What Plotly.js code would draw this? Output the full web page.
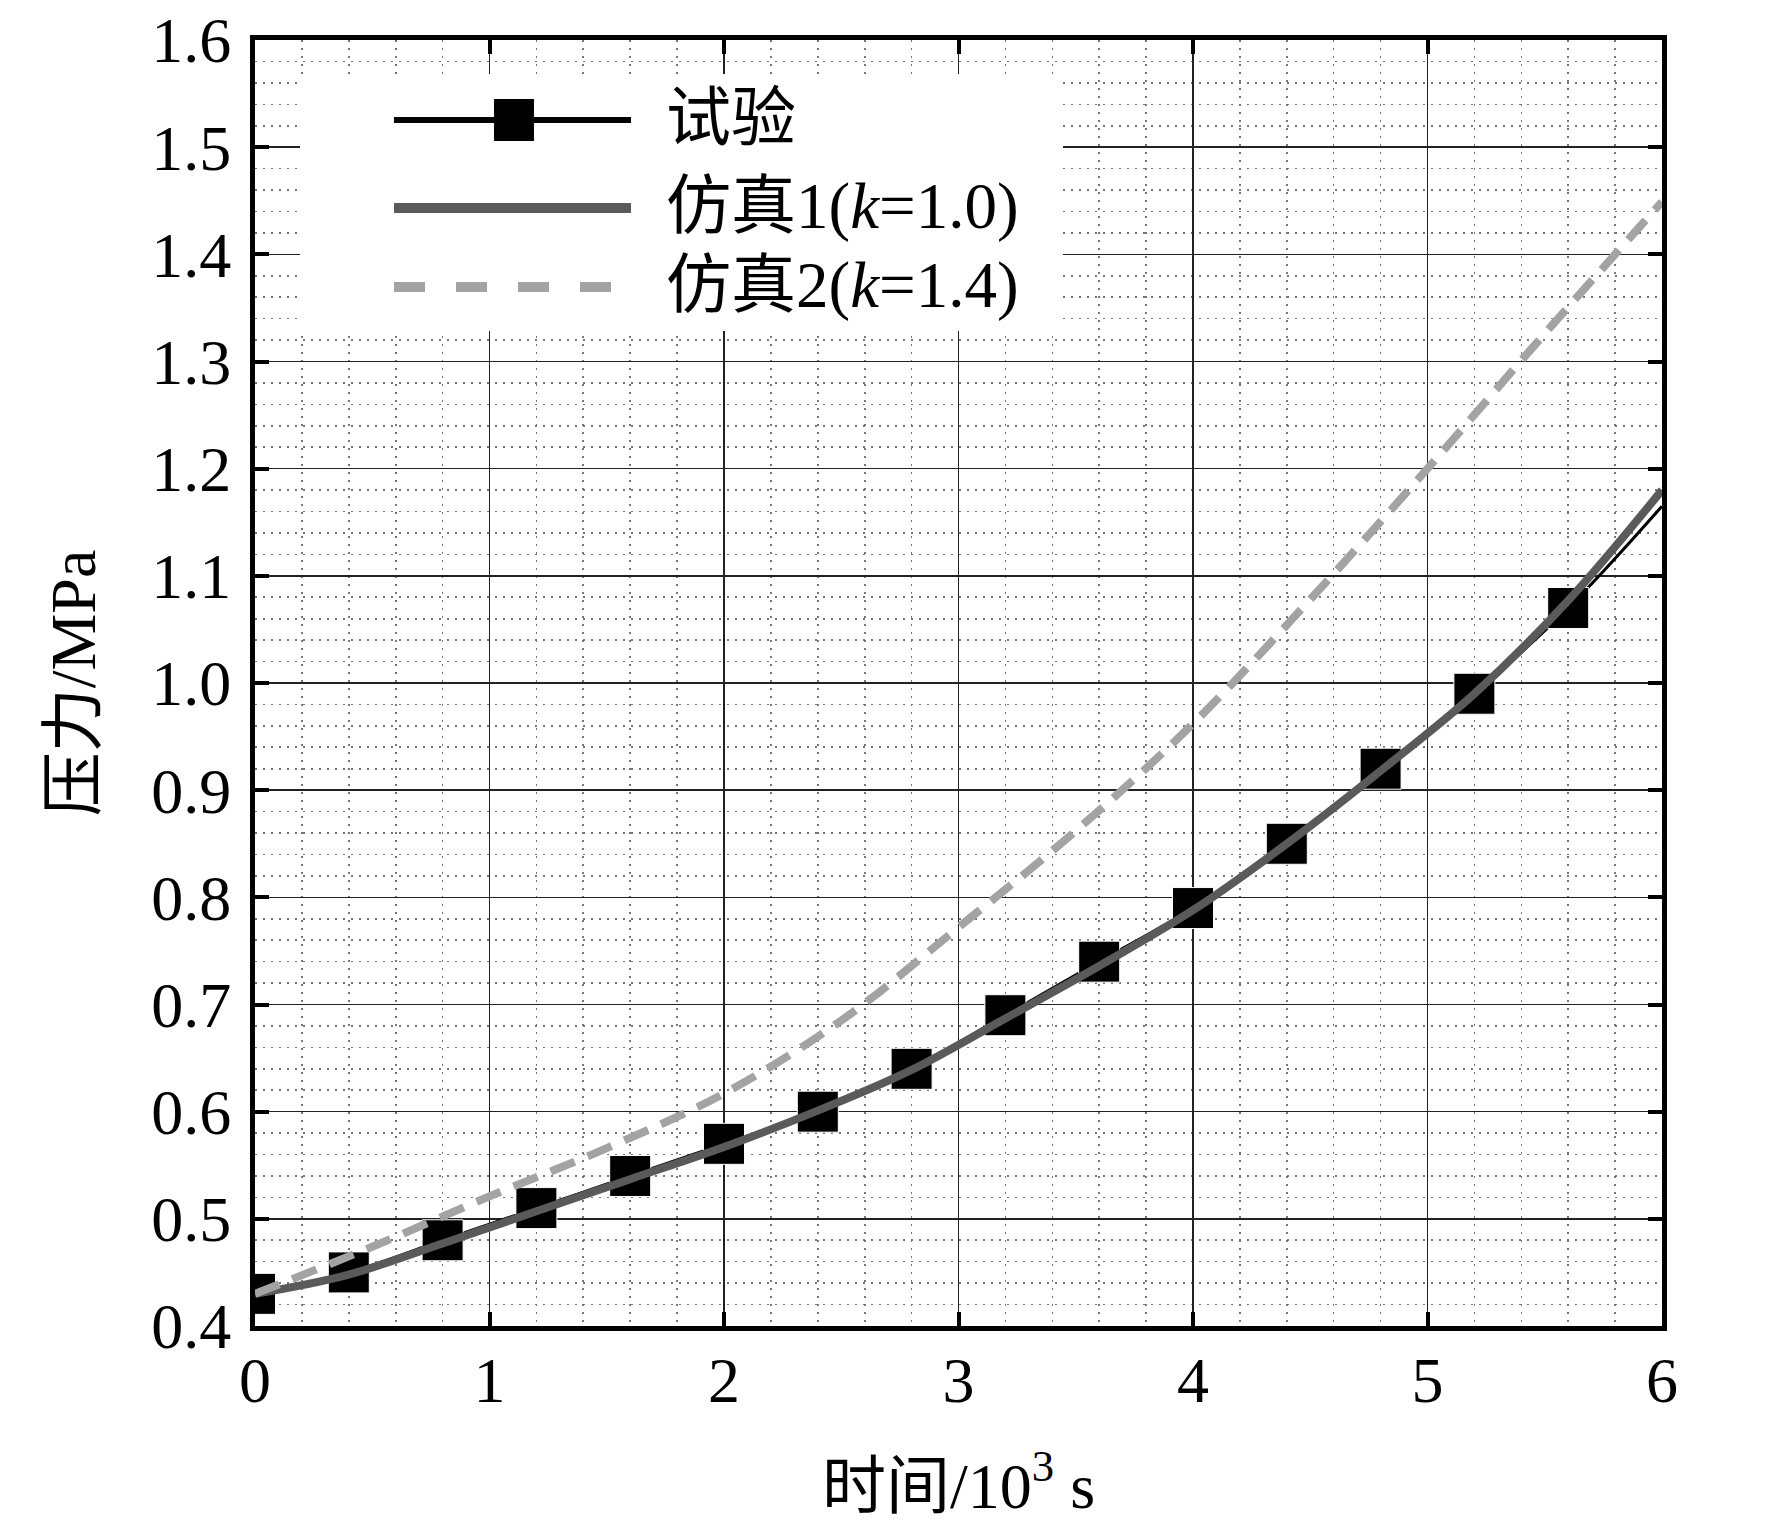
<!DOCTYPE html>
<html>
<head>
<meta charset="utf-8">
<script src="https://cdn.plot.ly/plotly-3.0.1.min.js"></script>
<style>
  html, body { margin: 0; padding: 0; background: #fff; }
  #chart { width: 1772px; height: 1522px; }
</style>
</head>
<body>
<div id="chart"></div>
<script>
"use strict";

// 试验 (measured), x in 10^3 s, y in MPa
const testTime = [0, 0.4, 0.8, 1.2, 1.6, 2.0, 2.4, 2.8, 3.2, 3.6, 4.0, 4.4, 4.8, 5.2, 5.6, 6.0];
const testPressure = [0.43, 0.45, 0.48, 0.51, 0.54, 0.57, 0.60, 0.64, 0.69, 0.74, 0.79, 0.85, 0.92, 0.99, 1.07, 1.165];

// 仿真1 (k=1.0)
const sim1Time = [0, 0.4, 0.8, 1.2, 1.6, 2.0, 2.4, 2.8, 3.2, 3.6, 4.0, 4.4, 4.8, 5.2, 5.6, 6.0];
const sim1Pressure = [0.43, 0.448, 0.477, 0.507, 0.537, 0.567, 0.601, 0.639, 0.687, 0.736, 0.788, 0.85, 0.918, 0.99, 1.077, 1.18];

// 仿真2 (k=1.4)
const sim2Time = [0, 0.5, 1.0, 1.5, 2.0, 2.5, 3.0, 3.5, 4.0, 4.5, 5.0, 5.5, 6.0];
const sim2Pressure = [0.43, 0.474, 0.521, 0.566, 0.617, 0.685, 0.772, 0.862, 0.962, 1.078, 1.2, 1.326, 1.449];

const legendLabels = ["试验", "仿真1(<i>k</i>=1.0)", "仿真2(<i>k</i>=1.4)"];

const fontFamily = "'Liberation Serif', 'Times New Roman', 'Noto Sans CJK SC', serif";
const sim1Color = "#5a5a5a";
const sim2Color = "#a3a3a3";

// plot area in pixels, used to place the hand-drawn legend
const plotLeft = 255, plotRight = 1662, plotTop = 40, plotBottom = 1326;
const px = (x) => (x - plotLeft) / (plotRight - plotLeft);
const py = (y) => (plotBottom - y) / (plotBottom - plotTop);

const traces = [
    {
        type: "scatter",
        mode: "lines+markers",
        x: testTime,
        y: testPressure,
        line: { color: "#000", width: 3, shape: "spline" },
        marker: {
            symbol: "square",
            color: "#000",
            opacity: 1,
            size: testTime.map((t) => (t > 5.7 ? 0 : 41)),
        },
        showlegend: false,
    },
    {
        type: "scatter",
        mode: "lines",
        x: sim1Time,
        y: sim1Pressure,
        line: { color: sim1Color, width: 8, shape: "spline" },
        showlegend: false,
    },
    {
        type: "scatter",
        mode: "lines",
        x: sim2Time,
        y: sim2Pressure,
        line: { color: sim2Color, width: 8, dash: "26px,14px", shape: "spline" },
        showlegend: false,
    },
];

// legend drawn by hand
const rowY = [120, 208, 287];
const sampleL = 394, sampleR = 631;
const shapes = [
    {
        type: "rect", xref: "paper", yref: "paper",
        x0: px(300), x1: px(1063), y0: py(331), y1: py(74),
        fillcolor: "#fff", line: { width: 0 }, layer: "above",
    },
    {
        type: "line", xref: "paper", yref: "paper",
        x0: px(sampleL), x1: px(sampleR), y0: py(rowY[0]), y1: py(rowY[0]),
        line: { color: "#000", width: 6 }, layer: "above",
    },
    {
        type: "rect", xref: "paper", yref: "paper",
        x0: px(494), x1: px(534), y0: py(rowY[0] + 21), y1: py(rowY[0] - 21),
        fillcolor: "#000", line: { width: 0 }, layer: "above",
    },
    {
        type: "line", xref: "paper", yref: "paper",
        x0: px(sampleL), x1: px(sampleR), y0: py(rowY[1]), y1: py(rowY[1]),
        line: { color: sim1Color, width: 10 }, layer: "above",
    },
    {
        type: "line", xref: "paper", yref: "paper",
        x0: px(sampleL), x1: px(sampleR), y0: py(rowY[2]), y1: py(rowY[2]),
        line: { color: sim2Color, width: 10, dash: "31px,31px" }, layer: "above",
    },
];

const annotations = legendLabels.map((label, i) => ({
    xref: "paper", yref: "paper",
    x: px(664), y: py(rowY[i] - 2),
    xanchor: "left", yanchor: "middle",
    text: label,
    showarrow: false,
    font: { family: fontFamily, size: 65, color: "#000" },
}));

const axisCommon = {
    showline: true,
    linecolor: "#000",
    linewidth: 5,
    mirror: "ticks",
    ticks: "inside",
    ticklen: 14,
    tickwidth: 4,
    tickcolor: "#000",
    showgrid: true,
    gridcolor: "#222",
    gridwidth: 1.5,
    zeroline: false,
    tickfont: { family: fontFamily, size: 64, color: "#000" },
};

const minorGrid = { showgrid: true, griddash: "2px,6px", gridcolor: "#777", gridwidth: 1.6 };

const layout = {
    width: 1772,
    height: 1522,
    margin: { l: plotLeft, r: 1772 - plotRight, t: plotTop, b: 1522 - plotBottom },
    paper_bgcolor: "#fff",
    plot_bgcolor: "#fff",
    font: { family: fontFamily, color: "#000" },
    xaxis: Object.assign({}, axisCommon, {
        range: [0, 6],
        dtick: 1,
        tick0: 0,
        ticklabelstandoff: -6,
        minor: Object.assign({ dtick: 0.2 }, minorGrid),
        title: {
            text: "时间/10<sup>3</sup> s",
            font: { family: fontFamily, size: 64, color: "#000" },
            standoff: 58,
        },
    }),
    yaxis: Object.assign({}, axisCommon, {
        range: [0.4, 1.6],
        dtick: 0.1,
        tick0: 0.4,
        tickformat: ".1f",
        ticklabelstandoff: 6,
        minor: Object.assign({ dtick: 0.02 }, minorGrid),
        title: {
            text: "压力/MPa",
            font: { family: fontFamily, size: 64, color: "#000" },
            standoff: 36,
        },
    }),
    shapes: shapes,
    annotations: annotations,
    showlegend: false,
};

Plotly.newPlot("chart", traces, layout, { displayModeBar: false, staticPlot: true });
</script>
</body>
</html>
